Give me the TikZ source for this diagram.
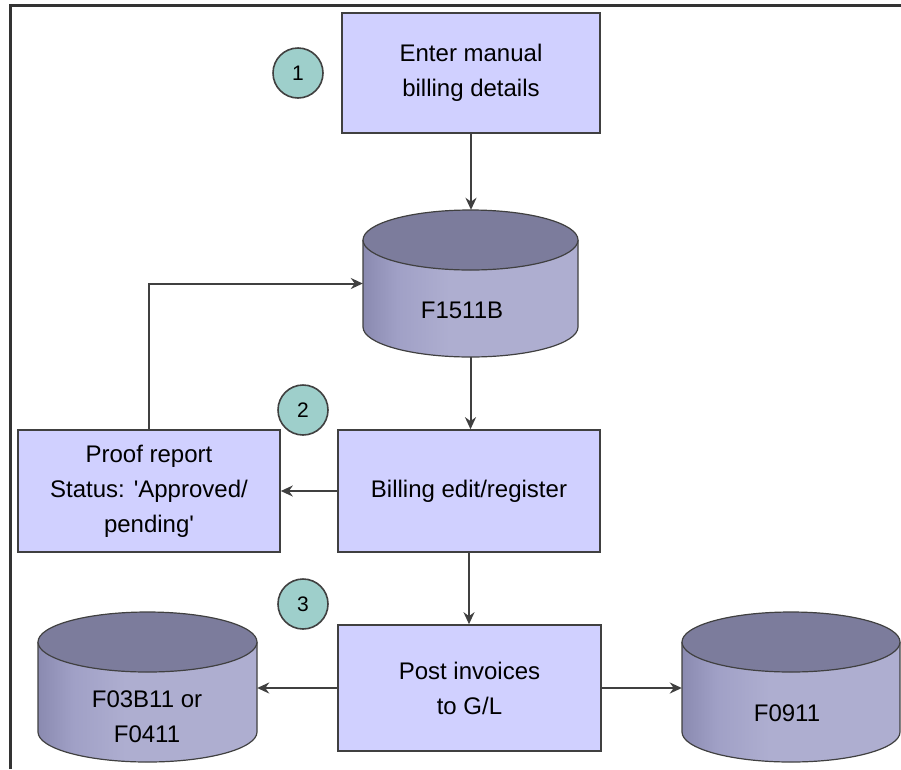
\documentclass[tikz,border=0pt]{standalone}
\usepackage{fontspec}
\setmainfont{Liberation Sans}
\usetikzlibrary{arrows.meta}
\definecolor{boxfill}{RGB}{208,208,255}
\definecolor{circfill}{RGB}{158,207,203}
\definecolor{dbtopc}{RGB}{124,124,156}
\definecolor{dbL}{RGB}{138,138,176}
\definecolor{dbM}{RGB}{160,160,198}
\definecolor{dbR}{RGB}{174,174,208}
\definecolor{edge}{RGB}{64,64,64}
\pgfdeclarehorizontalshading{dbshade}{100bp}{color(0bp)=(dbL); color(25bp)=(dbL); color(33bp)=(dbM); color(45bp)=(dbR); color(100bp)=(dbR)}
\newcommand\mydbshape[4]{%
  \pgfmathsetmacro\dbrx{(#2-#1)/2}%
  \pgfmathsetmacro\dbcx{(#1+#2)/2}%
  \path[shading=dbshade, shading angle=0]
    (#1,#3) -- (#1,#4) arc[start angle=180,end angle=0,x radius=\dbrx,y radius=30] -- (#2,#3) -- cycle;
  \draw[edge, line width=1.2pt]
    (#1,#3) -- (#1,#4) arc[start angle=180,end angle=0,x radius=\dbrx,y radius=30] -- (#2,#3);
  \filldraw[fill=dbtopc, draw=edge, line width=1.2pt] (\dbcx,#3) ellipse[x radius=\dbrx,y radius=30];
}
\begin{document}
\begin{tikzpicture}[x=1pt,y=-1pt,
  font=\fontsize{24}{35}\selectfont,
  procbox/.style={draw=edge, line width=1.6pt, fill=boxfill, align=center, inner sep=0pt},
  stepcirc/.style={circle, draw=edge, line width=1.6pt, fill=circfill, minimum size=50pt, inner sep=0pt, font=\fontsize{21}{24}\selectfont},
  dbnode/.style={draw=none, inner sep=0pt},
  conn/.style={draw=edge, line width=2pt, -{Stealth[length=12pt,width=11pt]}}]
\useasboundingbox (0,0) rectangle (901,769);
\draw[line width=3pt, black!80] (10,769) -- (10,5) -- (901,5);

% cylinders
\mydbshape{363}{578}{240}{327}
\mydbshape{38}{257}{642}{732}
\mydbshape{682}{900}{642}{732}
\node[dbnode, minimum width=215pt, minimum height=147pt] (db1) at (470.5,283.5) {};
\node[dbnode, minimum width=219pt, minimum height=150pt] (db2) at (147.5,687) {};
\node[dbnode, minimum width=218pt, minimum height=150pt] (db3) at (791,687) {};
\node (db1t) at (462,310) {F1511B};
\node[align=center] (db2t) at (147,717) {F03B11 or\\F0411};
\node (db3t) at (787,713) {F0911};

% process boxes
\node[procbox, minimum width=258pt, minimum height=120pt] (enter) at (471,73) {Enter manual\\billing details};
\node[procbox, minimum width=262pt, minimum height=122pt] (bill) at (469,491) {Billing edit/register};
\node[procbox, minimum width=262pt, minimum height=122pt] (proof) at (149,491) {Proof report\\Status: \textquotesingle Approved/\\pending\textquotesingle};
\node[procbox, minimum width=263pt, minimum height=126pt] (post) at (469.5,688) {Post invoices\\to G/L};

% step circles
\node[stepcirc] (c1) at (298,73) {1};
\node[stepcirc] (c2) at (303,410) {2};
\node[stepcirc] (c3) at (303,604) {3};

% connectors
\draw[conn] (enter.south) -- (enter.south |- db1.north);
\draw[conn] (db1.south) -- (db1.south |- bill.north);
\draw[conn] (proof.north) |- (db1.west);
\draw[conn] (bill.west) -- (proof.east);
\draw[conn] (bill.south) -- (bill.south |- post.north);
\draw[conn] (post.west) -- (post.west -| db2.east);
\draw[conn] (post.east) -- (post.east -| db3.west);
\end{tikzpicture}
\end{document}
